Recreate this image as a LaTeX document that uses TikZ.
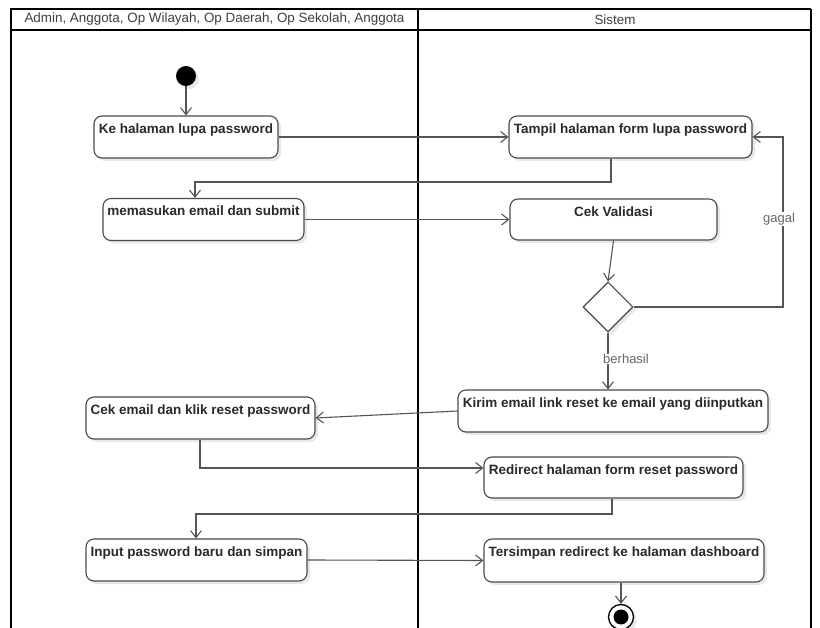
\documentclass[tikz,border=0pt]{standalone}
\usepackage{fontspec}
\setmainfont{Liberation Sans}
\usetikzlibrary{arrows.meta,shapes.geometric,shadows}
\definecolor{boxc}{HTML}{4A4A4A}
\definecolor{txt}{HTML}{2A2A2A}
\definecolor{edgec}{HTML}{555555}
\definecolor{lblc}{HTML}{666666}
\begin{document}
\begin{tikzpicture}[x=1pt,y=-1pt,
  shad/.style={drop shadow={shadow xshift=3pt,shadow yshift=-3pt,opacity=0.15,fill=black!60}},
  act/.style={draw=boxc, line width=1.1pt, rounded corners=8pt, fill=white, inner sep=0pt, shad},
  acttext/.style={anchor=north, inner sep=0pt, yshift=-8pt, text=txt, font=\bfseries\fontsize{13.5}{15}\selectfont},
  hdr/.style={text=txt!90, font=\fontsize{13.4}{15}\selectfont, inner sep=0pt},
  frame/.style={draw=black, line width=1.8pt},
  flow/.style={draw=edgec, line width=1.1pt, -{Straight Barb[length=7pt,width=11pt]}},
  guard/.style={text=lblc, fill=white, inner sep=0.5pt, font=\fontsize{13}{15}\selectfont}
]
\useasboundingbox (0,0) rectangle (820,628);
\clip (0,0) rectangle (820,628);
\fill[white] (0,0) rectangle (820,628);

% swimlane frame
\draw[frame] (11,640) -- (11,9) -- (811,9);
\draw[draw=black, line width=1.2pt] (811,9) -- (811,640);
\draw[frame] (11,30) -- (811,30);
\draw[frame] (418,9) -- (418,640);
\node[hdr] (h1) at (214.5,19.5) {Admin, Anggota, Op Wilayah, Op Daerah, Op Sekolah, Anggota};
\node[hdr] (h2) at (615,19.5) {Sistem};

% start
\node[circle, fill=black, minimum size=20pt, inner sep=0pt, shad] (start) at (186,76) {};

% activities
\node[act, minimum width=184pt, minimum height=42pt, label={[acttext]north:Ke halaman lupa password}] (b1) at (186,137) {};
\node[act, minimum width=243pt, minimum height=42pt, label={[acttext]north:Tampil halaman form lupa password}] (b2) at (630.5,137) {};
\node[act, minimum width=201pt, minimum height=42pt, label={[acttext]north:memasukan email dan submit}] (b3) at (203.5,219.5) {};
\node[act, minimum width=207pt, minimum height=41pt, label={[acttext]north:Cek Validasi}] (b4) at (613.5,219.5) {};
\node[diamond, draw=boxc, line width=1.1pt, fill=white, minimum width=50pt, minimum height=50pt, inner sep=0pt, shad] (d) at (608,307) {};
\node[act, minimum width=310pt, minimum height=42pt, label={[acttext]north:Kirim email link reset ke email yang diinputkan}] (b5) at (613,411) {};
\node[act, minimum width=229pt, minimum height=42pt, label={[acttext]north:Cek email dan klik reset password}] (b6) at (200.5,418) {};
\node[act, minimum width=259pt, minimum height=41pt, label={[acttext]north:Redirect halaman form reset password}] (b7) at (613.5,477.5) {};
\node[act, minimum width=221pt, minimum height=42pt, label={[acttext]north:Input password baru dan simpan}] (b8) at (196.5,560) {};
\node[act, minimum width=280pt, minimum height=43pt, label={[acttext]north:Tersimpan redirect ke halaman dashboard}] (b9) at (624,560.5) {};

% end
\node[circle, draw=black, line width=1.3pt, fill=white, minimum size=25pt, inner sep=0pt, shad] (end) at (621,617) {};
\node[circle, fill=black, minimum size=15pt, inner sep=0pt] (endin) at (end.center) {};

% bend points
\coordinate (k1) at (611,182);
\coordinate (k2) at (195,182);
\coordinate (k3) at (783,307);
\coordinate (k4) at (783,137);
\coordinate (k5) at (200,468);
\coordinate (k6) at (612,514);
\coordinate (k7) at (196,514);

% connectors
\draw[flow] (start) -- (b1.north);
\draw[flow] (b1.east) -- (b2.west);
\draw[flow] (b2.south -| k1) -- (k1) -- (k2) -- (b3.north -| k2);
\draw[flow] (b3.east) -- (b4.west);
\draw[flow] (b4.south) -- (d.north);
\draw[flow] (d.east) -- (k3) -- (k4) -- (b2.east);
\node[guard] (gagal) at (779,219) {gagal};
\draw[flow] (d.south) -- (d.south |- b5.north);
\node[guard] (berhasil) at (626,359) {berhasil};
\draw[flow] (b5.west) -- (b6.east);
\draw[flow] (b6.south -| k5) -- (k5) -- (b7.west |- k5);
\draw[flow] (b7.south -| k6) -- (k6) -- (k7) -- (b8.north -| k7);
\draw[flow] (b8.east) -- (b9.west);
\draw[flow] (b9.south -| end) -- (end.north);
\end{tikzpicture}
\end{document}
